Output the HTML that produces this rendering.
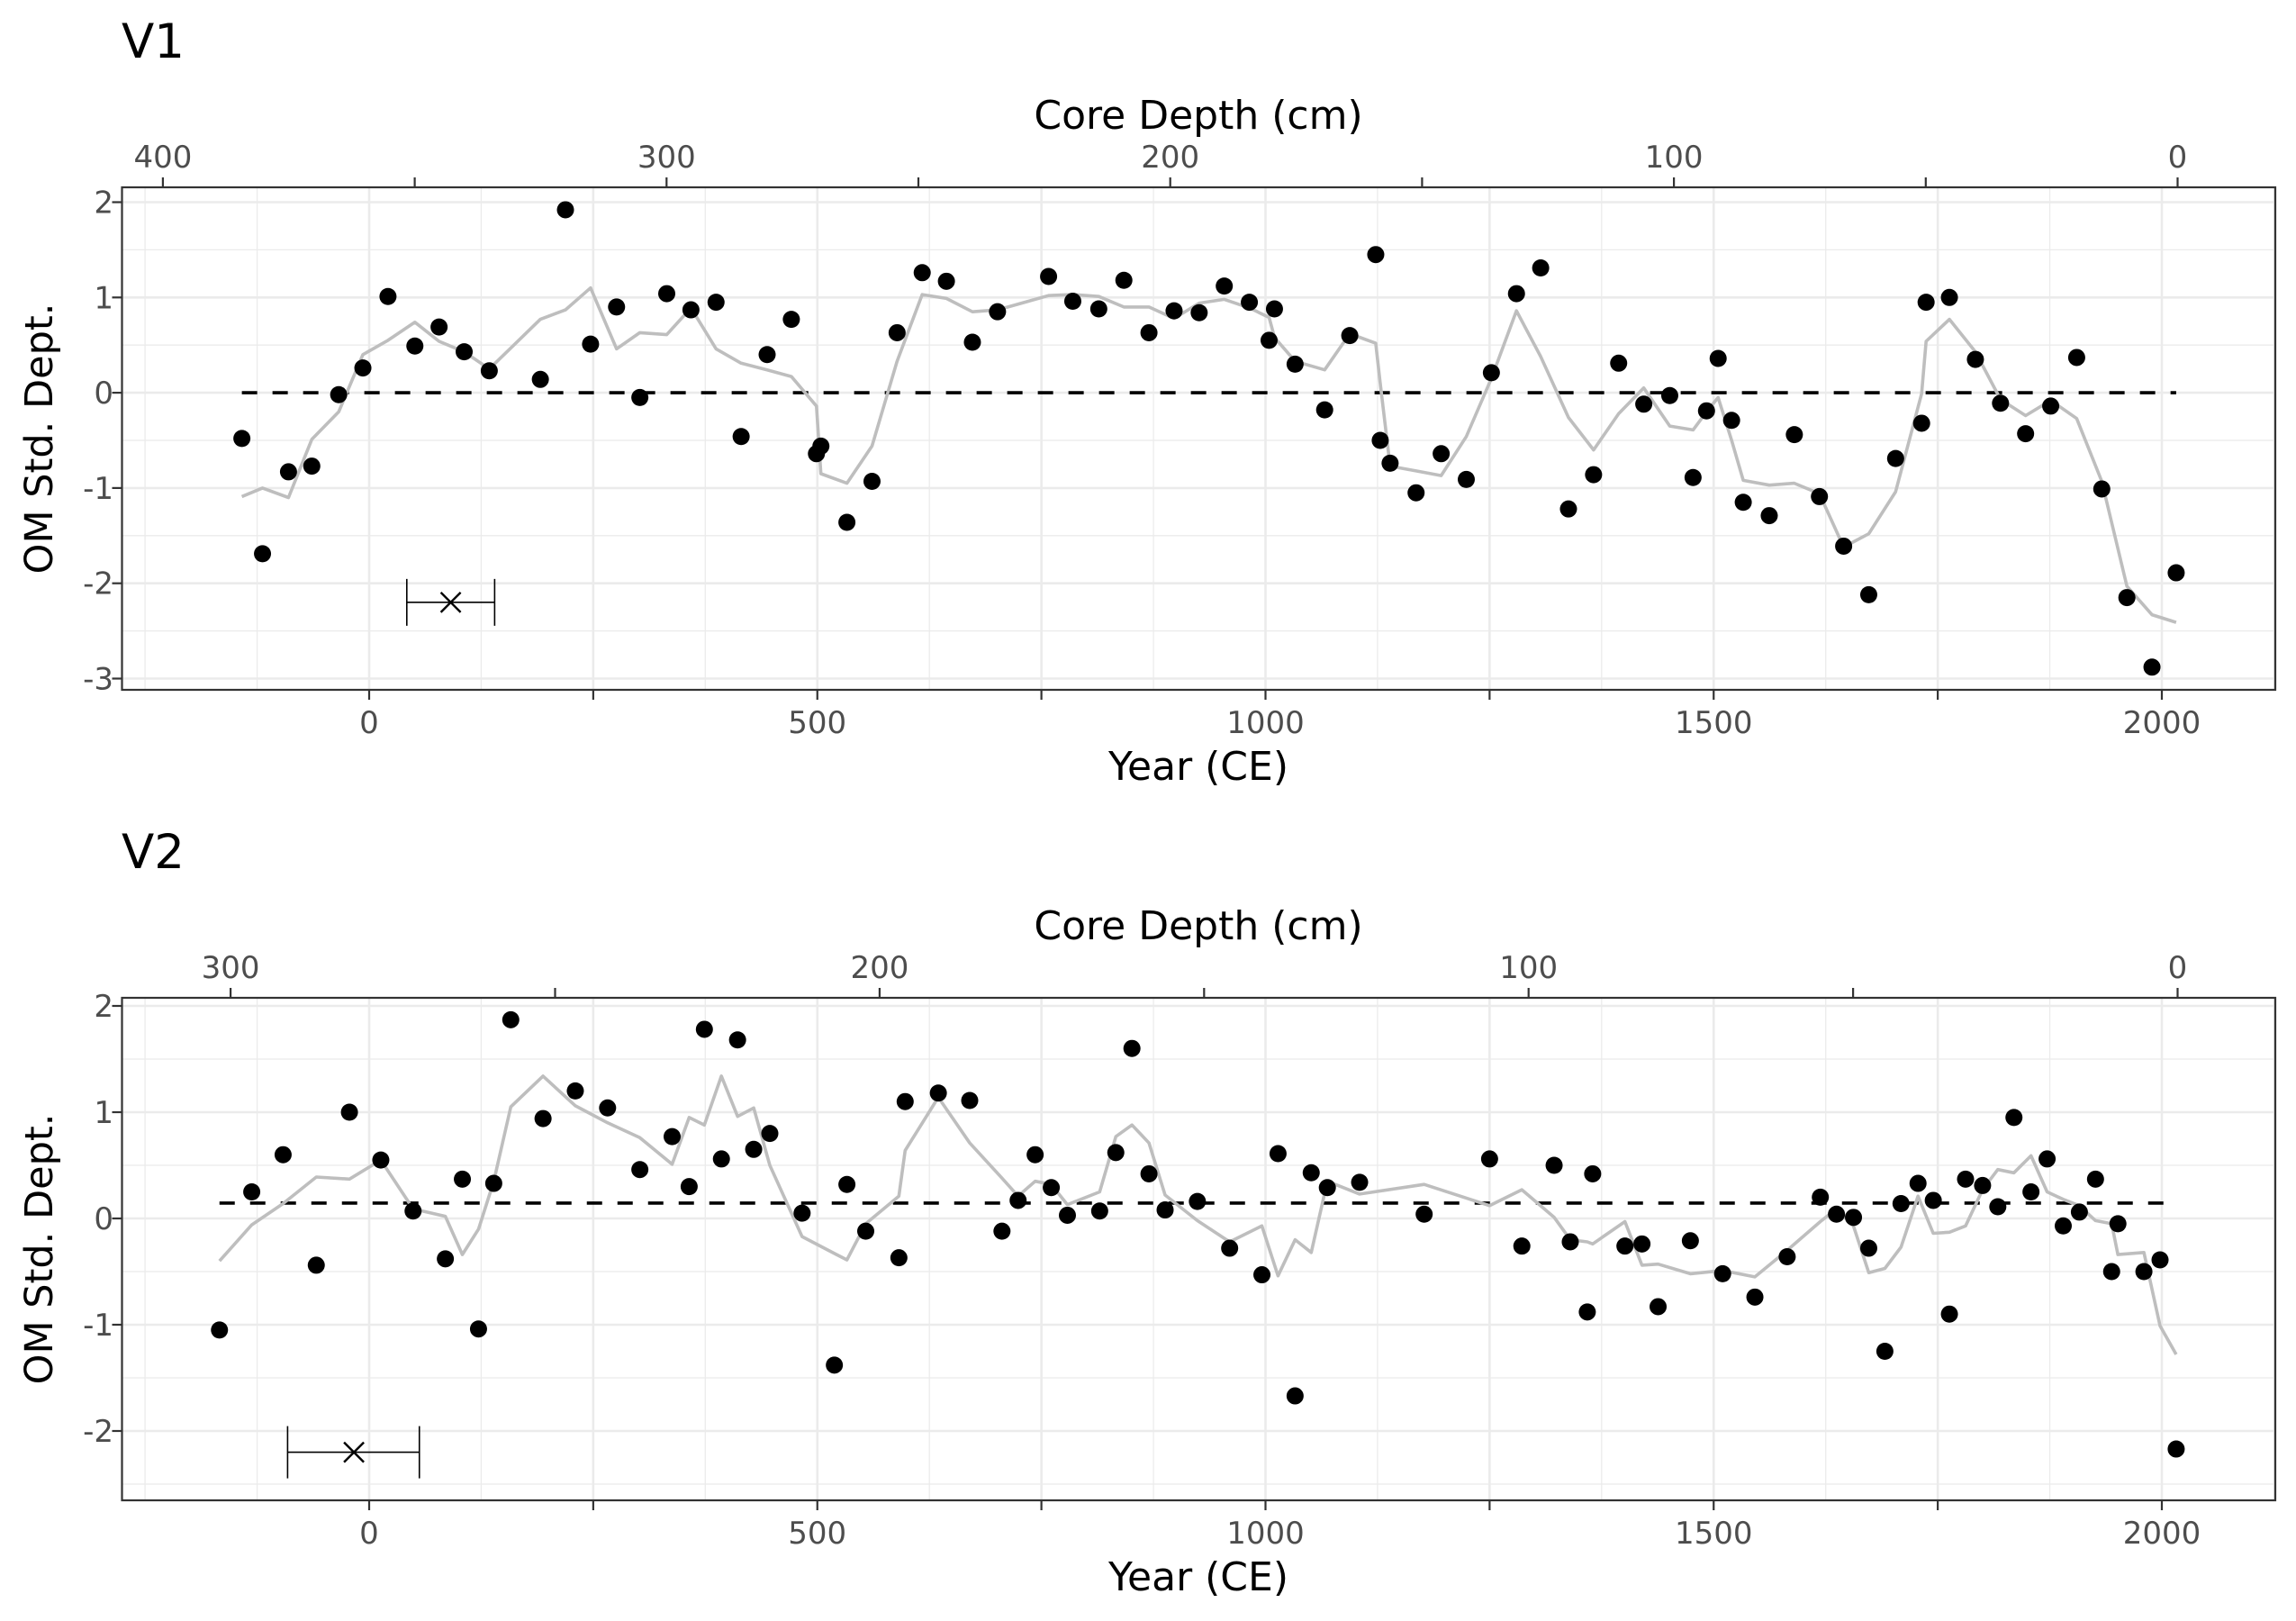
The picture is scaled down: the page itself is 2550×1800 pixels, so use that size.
<!DOCTYPE html>
<html><head><meta charset="utf-8">
<style>
html,body{margin:0;padding:0;background:#fff;}
svg{display:block;font-family:"DejaVu Sans","Liberation Sans",sans-serif;}
</style></head>
<body>
<svg id="chart" width="2550" height="1800" viewBox="0 0 2550 1800" xmlns="http://www.w3.org/2000/svg">
<rect x="0" y="0" width="2550" height="1800" fill="#fff"/>
</svg>
<script>
// ---- V1 data ----
const years1 = [-142,-119,-90,-64,-34,-7,21,51,78,106,134,191,219,247,276,302,332,359,387,415,444,471,499,504,533,561,589,617,644,673,701,758,785,814,842,870,898,926,954,982,1004,1010,1033,1066,1094,1123,1128,1139,1168,1196,1224,1252,1280,1307,1338,1366,1394,1422,1451,1477,1492,1505,1520,1533,1562,1590,1618,1645,1673,1703,1732,1737,1763,1792,1820,1848,1876,1905,1933,1961,1989,2016];
const om1 = [-0.48,-1.69,-0.83,-0.77,-0.02,0.26,1.01,0.49,0.69,0.43,0.23,0.14,1.92,0.51,0.9,-0.05,1.04,0.87,0.95,-0.46,0.40,0.77,-0.64,-0.56,-1.36,-0.93,0.63,1.26,1.17,0.53,0.85,1.22,0.96,0.88,1.18,0.63,0.86,0.84,1.12,0.95,0.55,0.88,0.30,-0.18,0.60,1.45,-0.50,-0.74,-1.05,-0.64,-0.91,0.21,1.04,1.31,-1.22,-0.86,0.31,-0.12,-0.03,-0.89,-0.19,0.36,-0.29,-1.15,-1.29,-0.44,-1.09,-1.61,-2.12,-0.69,-0.32,0.95,1.0,0.35,-0.11,-0.43,-0.14,0.37,-1.01,-2.15,-2.88,-1.89];
const smooth1 = [-1.09,-1.0,-1.1,-0.49,-0.2,0.4,0.55,0.74,0.54,0.43,0.25,0.77,0.87,1.1,0.46,0.63,0.61,0.89,0.46,0.31,0.24,0.17,-0.14,-0.85,-0.95,-0.56,0.33,1.03,0.99,0.85,0.87,1.02,1.03,1.01,0.90,0.90,0.78,0.94,0.98,0.89,0.79,0.58,0.33,0.24,0.62,0.52,0.1,-0.77,-0.82,-0.87,-0.46,0.15,0.86,0.38,-0.26,-0.60,-0.22,0.05,-0.35,-0.39,-0.2,-0.05,-0.5,-0.92,-0.97,-0.95,-1.06,-1.62,-1.48,-1.04,-0.01,0.54,0.77,0.43,-0.07,-0.24,-0.08,-0.27,-0.93,-2.03,-2.33,-2.41];
const ref1 = 0;
const err1 = [42, 91, 140, -2.2];
const yTicks1 = [2,1,0,-1,-2,-3];
const depthTicks1 = [400,350,300,250,200,150,100,50,0];
const depthLabels1 = [400,300,200,100,0];

// ---- V2 data ----
const years2 = [-167,-131,-96,-59,-22,13,49,85,104,122,139,158,194,230,266,302,338,357,374,393,411,429,447,483,519,533,554,591,598,635,670,706,724,743,761,779,815,833,851,870,888,924,960,996,1014,1033,1051,1069,1105,1177,1250,1286,1322,1340,1359,1365,1401,1420,1438,1474,1510,1546,1582,1619,1637,1656,1673,1691,1709,1728,1745,1763,1781,1800,1817,1835,1854,1872,1890,1908,1926,1944,1951,1980,1998,2016];
const om2 = [-1.05,0.25,0.60,-0.44,1.00,0.55,0.07,-0.38,0.37,-1.04,0.33,1.87,0.94,1.20,1.04,0.46,0.77,0.30,1.78,0.56,1.68,0.65,0.80,0.05,-1.38,0.32,-0.12,-0.37,1.10,1.18,1.11,-0.12,0.17,0.60,0.29,0.03,0.07,0.62,1.60,0.42,0.08,0.16,-0.28,-0.53,0.61,-1.67,0.43,0.29,0.34,0.04,0.56,-0.26,0.50,-0.22,-0.88,0.42,-0.26,-0.24,-0.83,-0.21,-0.52,-0.74,-0.36,0.20,0.04,0.01,-0.28,-1.25,0.14,0.33,0.17,-0.90,0.37,0.31,0.11,0.95,0.25,0.56,-0.07,0.06,0.37,-0.50,-0.05,-0.50,-0.39,-2.17];
const smooth2 = [-0.40,-0.06,0.14,0.39,0.37,0.55,0.09,0.02,-0.34,-0.10,0.35,1.05,1.34,1.06,0.90,0.76,0.51,0.95,0.88,1.34,0.96,1.04,0.50,-0.17,-0.33,-0.39,-0.05,0.21,0.64,1.14,0.71,0.38,0.21,0.35,0.32,0.13,0.25,0.77,0.88,0.71,0.22,-0.02,-0.22,-0.07,-0.54,-0.20,-0.32,0.35,0.23,0.32,0.12,0.27,0.01,-0.20,-0.22,-0.24,-0.03,-0.44,-0.43,-0.52,-0.49,-0.55,-0.30,-0.03,0.09,-0.07,-0.51,-0.47,-0.27,0.21,-0.14,-0.13,-0.07,0.27,0.46,0.43,0.59,0.25,0.18,0.12,-0.02,-0.05,-0.34,-0.32,-1.01,-1.28];
const ref2 = 0.145;
const err2 = [-91, -17, 56, -2.2];
const yTicks2 = [2,1,0,-1,-2];
const depthTicks2 = [300,250,200,150,100,50,0];
const depthLabels2 = [300,200,100,0];

const yearLabels = [0,500,1000,1500,2000];
const yearTicks = [0,250,500,750,1000,1250,1500,1750,2000];

const NS = "http://www.w3.org/2000/svg";
const svg = document.getElementById('chart');
function mk(tag, attrs, parent){
  const e = document.createElementNS(NS, tag);
  for (const k in attrs) e.setAttribute(k, attrs[k]);
  (parent||svg).appendChild(e);
  return e;
}
const xS = yr => 410 + yr*0.9955;

function panel(cfg){
  const g = mk('g', {});
  
  
  const L=135.5, R=2527, T=cfg.top, B=cfg.bottom;
  const yS = v => cfg.y0 - v*cfg.yk;
  const dS = d => 2418.5 - d*cfg.dk;
  const grid = mk('g', {}, g);
  
  
  for (let yr=-250; yr<=2125; yr+=125){
    const major = (yr%250===0 && yr>=0);
    mk('line',{x1:xS(yr),x2:xS(yr),y1:T,y2:B,stroke:'#ebebeb','stroke-width':major?2.6:1.3},grid);
  }
  for (let v=Math.ceil(cfg.ymin*2)/2; v<=cfg.ymax; v+=0.5){
    const major = Number.isInteger(v);
    mk('line',{x1:L,x2:R,y1:yS(v),y2:yS(v),stroke:'#ebebeb','stroke-width':major?2.6:1.3},grid);
  }
  const dl = mk('line',{x1:xS(cfg.years[0]),x2:xS(cfg.years[cfg.years.length-1]),y1:yS(cfg.ref),y2:yS(cfg.ref),stroke:'#000','stroke-width':3.6,'stroke-dasharray':'17,17'},g);
  
  
  let d='';
  cfg.years.forEach((yr,i)=>{ d += (i?'L':'M') + xS(yr).toFixed(1) + ',' + yS(cfg.smooth[i]).toFixed(1); });
  const sl = mk('path',{d:d,fill:'none',stroke:'#bebebe','stroke-width':3.6,'stroke-linejoin':'round'},g);
  
  
  cfg.years.forEach((yr,i)=>{
    const c = mk('circle',{cx:xS(yr),cy:yS(cfg.om[i]),r:9.5,fill:'#000'},g);
    
    
  });
  const e = cfg.err; const ey = yS(e[3]);
  const eg = mk('g',{stroke:'#000','stroke-width':1.6},g);
  
  
  mk('line',{x1:xS(e[0]),x2:xS(e[2]),y1:ey,y2:ey},eg);
  mk('line',{x1:xS(e[0]),x2:xS(e[0]),y1:ey-cfg.cap,y2:ey+cfg.cap},eg);
  mk('line',{x1:xS(e[2]),x2:xS(e[2]),y1:ey-cfg.cap,y2:ey+cfg.cap},eg);
  const cx = xS(e[1]);
  mk('line',{x1:cx-11,x2:cx+11,y1:ey-11,y2:ey+11,'stroke-width':2.4},eg);
  mk('line',{x1:cx-11,x2:cx+11,y1:ey+11,y2:ey-11,'stroke-width':2.4},eg);
  const br = mk('rect',{x:L,y:T,width:R-L,height:B-T,fill:'none',stroke:'#333','stroke-width':2.2},g);
  
  
  const ya = mk('g',{},g);
  
  
  cfg.yTicks.forEach(v=>{
    mk('line',{x1:L-11,x2:L,y1:yS(v),y2:yS(v),stroke:'#333','stroke-width':2.2},ya);
    const t = mk('text',{x:126,y:yS(v)+12,'text-anchor':'end','font-size':34,fill:'#4d4d4d'},ya);
    t.textContent = v;
  });
  const xa = mk('g',{},g);
  
  
  yearTicks.forEach(yr=>{ mk('line',{x1:xS(yr),x2:xS(yr),y1:B,y2:B+11,stroke:'#333','stroke-width':2.2},xa); });
  yearLabels.forEach(yr=>{
    const t = mk('text',{x:xS(yr),y:B+48,'text-anchor':'middle','font-size':34,fill:'#4d4d4d'},xa);
    t.textContent = yr;
  });
  const da = mk('g',{},g);
  
  
  cfg.depthTicks.forEach(dp=>{ mk('line',{x1:dS(dp),x2:dS(dp),y1:T-11,y2:T,stroke:'#333','stroke-width':2.2},da); });
  cfg.depthLabels.forEach(dp=>{
    const t = mk('text',{x:dS(dp),y:T-22,'text-anchor':'middle','font-size':34,fill:'#4d4d4d'},da);
    t.textContent = dp;
  });
  const tt = mk('text',{x:135,y:T-144,'font-size':53,fill:'#000'},g);
  tt.textContent = cfg.title;
  
  
  const dt = mk('text',{x:1331,y:T-65,'text-anchor':'middle','font-size':44,fill:'#000'},g);
  dt.textContent = 'Core Depth (cm)';
  
  
  const xt = mk('text',{x:1331,y:B+100,'text-anchor':'middle','font-size':44,fill:'#000'},g);
  xt.textContent = 'Year (CE)';
  
  
  const cy = (T+B)/2;
  const yt = mk('text',{x:0,y:0,'text-anchor':'middle','font-size':43,fill:'#000',transform:'translate(58,'+cy+') rotate(-90)'},g);
  yt.textContent = 'OM Std. Dept.';
  
  
}

panel({name:'v1',title:'V1',top:208,bottom:766,y0:436.1,yk:105.8,ymin:-3.11,ymax:2.15,dk:5.594,
  years:years1,om:om1,smooth:smooth1,ref:ref1,err:err1,cap:26,yTicks:yTicks1,depthTicks:depthTicks1,depthLabels:depthLabels1});
panel({name:'v2',title:'V2',top:1108,bottom:1666,y0:1353,yk:118,ymin:-2.65,ymax:2.07,dk:7.208,
  years:years2,om:om2,smooth:smooth2,ref:ref2,err:err2,cap:29,yTicks:yTicks2,depthTicks:depthTicks2,depthLabels:depthLabels2});
</script>
</body></html>
